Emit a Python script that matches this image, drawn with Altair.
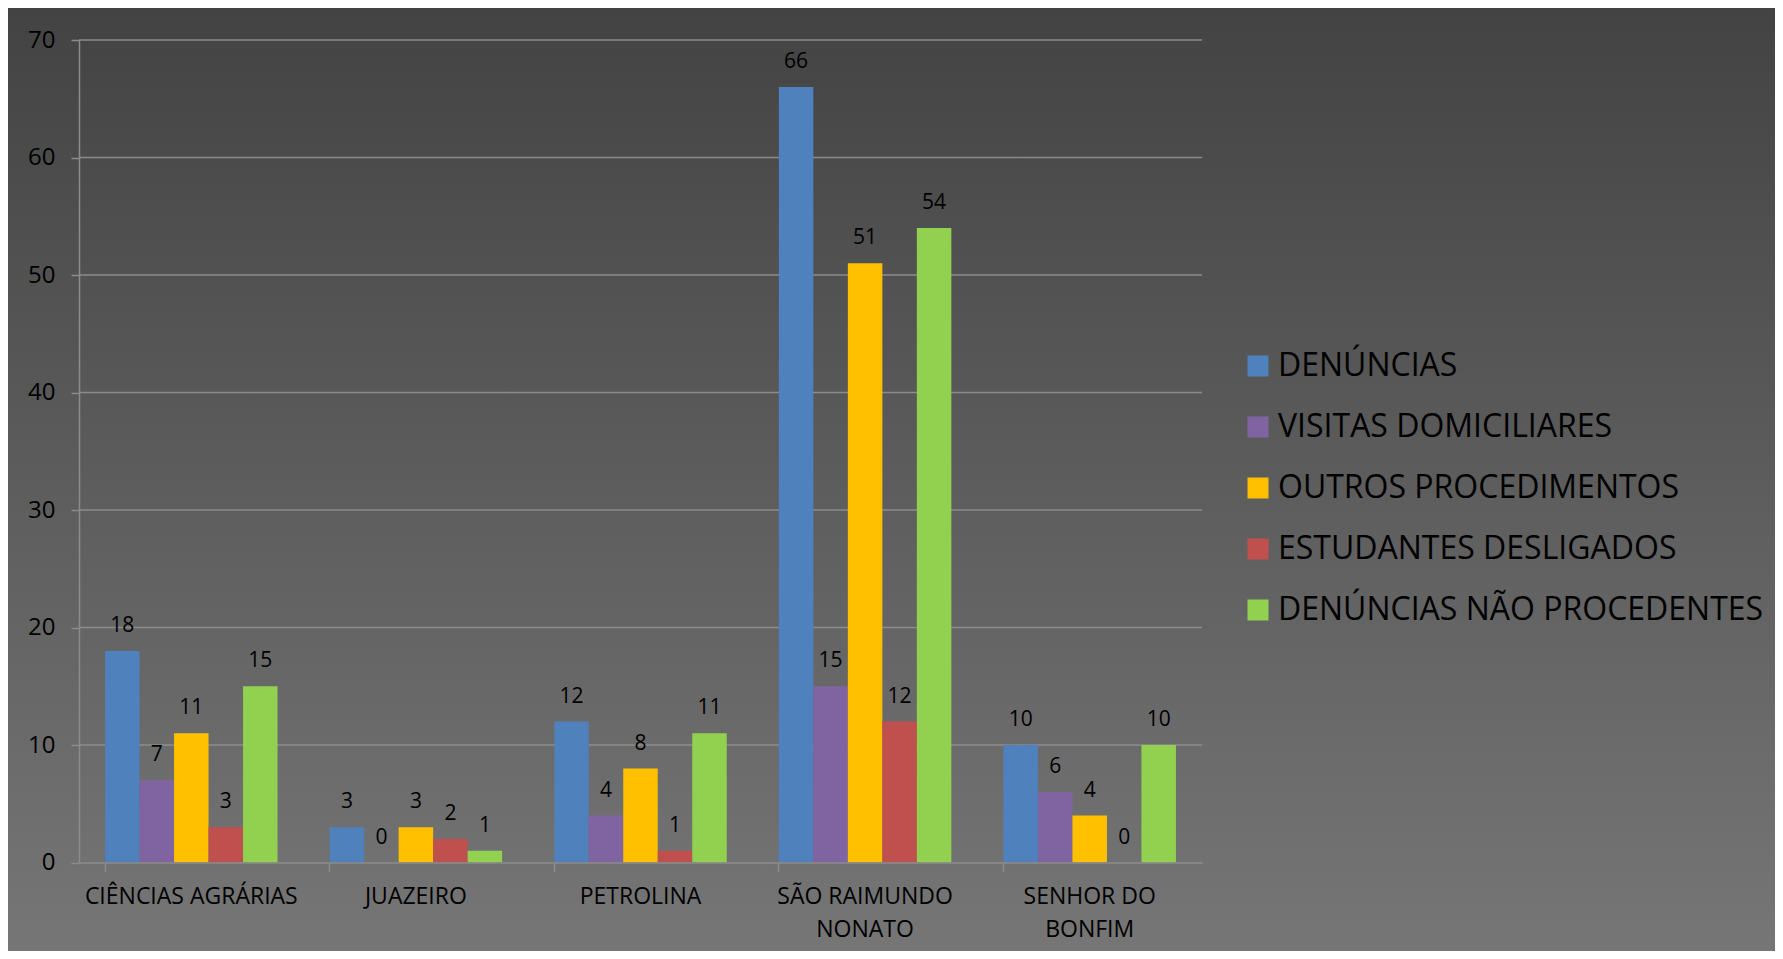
import altair as alt
import pandas as pd

categories = ["CIÊNCIAS AGRÁRIAS", "JUAZEIRO", "PETROLINA", "SÃO RAIMUNDO NONATO", "SENHOR DO BONFIM"]
series = ["DENÚNCIAS", "VISITAS DOMICILIARES", "OUTROS PROCEDIMENTOS",
          "ESTUDANTES DESLIGADOS", "DENÚNCIAS NÃO PROCEDENTES"]
denuncias = [18, 3, 12, 66, 10]
visitas = [7, 0, 4, 15, 6]
outros = [11, 3, 8, 51, 4]
desligados = [3, 2, 1, 12, 0]
nao_procedentes = [15, 1, 11, 54, 10]
y_ticks = [0, 10, 20, 30, 40, 50, 60, 70]
colors = ["#4f81bd", "#8064a2", "#ffc000", "#c0504d", "#92d050"]

rows = []
for s, vals in zip(series, [denuncias, visitas, outros, desligados, nao_procedentes]):
    for c, v in zip(categories, vals):
        rows.append({"campus": c, "serie": s, "valor": v})
df = pd.DataFrame(rows)
grid_df = pd.DataFrame({"valor": y_ticks[1:]})
bg_df = pd.DataFrame({"a": [0]})

W, H = 1123, 822.5
FONT = "Open Sans"

label_expr = ("datum.label == 'SÃO RAIMUNDO NONATO' ? ['SÃO RAIMUNDO', 'NONATO'] : "
              "datum.label == 'SENHOR DO BONFIM' ? ['SENHOR DO', 'BONFIM'] : datum.label")

bg = alt.Chart(bg_df).mark_rect(
    color=alt.LinearGradient(
        gradient="linear",
        stops=[alt.GradientStop(color="#434343", offset=0),
               alt.GradientStop(color="#767676", offset=1)],
        x1=0, x2=0, y1=0, y2=1,
    )
).encode(
    x=alt.value(-71), x2=alt.value(1696), y=alt.value(-32), y2=alt.value(911)
)

yscale = alt.Scale(domain=[0, 70], nice=False)
xscale = alt.Scale(paddingInner=0.232, paddingOuter=0.116)
yaxis = alt.Axis(title=None, values=y_ticks, labelFontSize=24, labelColor="#000000",
                 labelFont=FONT, labelPadding=16, tickSize=8, tickColor="#8c8c8c",
                 tickWidth=1.5, domainColor="#8c8c8c", domainWidth=1.5,
                 grid=False, zindex=1)

grid = alt.Chart(grid_df).mark_rule(color="#8c8c8c", strokeWidth=1.5).encode(
    y=alt.Y("valor:Q", scale=yscale, axis=yaxis)
)

base = alt.Chart(df).encode(
    x=alt.X("campus:N", sort=categories, scale=xscale,
            axis=alt.Axis(title=None, labelAngle=0, labelExpr=label_expr,
                          labelFontSize=23, labelLineHeight=33, labelPadding=14,
                          labelColor="#000000", labelFont=FONT, labelLimit=600,
                          tickSize=9, tickColor="#8c8c8c", tickWidth=1.5,
                          bandPosition=0, domainColor="#8c8c8c", domainWidth=1.5,
                          grid=False, zindex=1, labelBaseline="top")),
    xOffset=alt.XOffset("serie:N", sort=series, scale=alt.Scale(paddingInner=0, paddingOuter=0)),
    y=alt.Y("valor:Q", scale=yscale, axis=yaxis),
)

bars = base.mark_bar().encode(
    color=alt.Color("serie:N", sort=series,
                    scale=alt.Scale(domain=series, range=colors),
                    legend=alt.Legend(title=None, orient="none", legendX=1163, legendY=310,
                                      symbolType="square", symbolSize=441, symbolStrokeWidth=0,
                                      labelFontSize=32, labelFont=FONT, labelColor="#000000",
                                      labelOffset=4, rowPadding=29, labelLimit=800))
)

labels = base.mark_text(baseline="alphabetic", dy=-19, fontSize=21, font=FONT, color="#000000").encode(
    text="valor:Q"
)

chart = alt.layer(bg, grid, bars, labels).properties(
    width=W, height=H, padding=0, background="#ffffff"
).configure_view(stroke=None)

chart.save("out.html", embed_options={"renderer": "svg", "actions": False})
